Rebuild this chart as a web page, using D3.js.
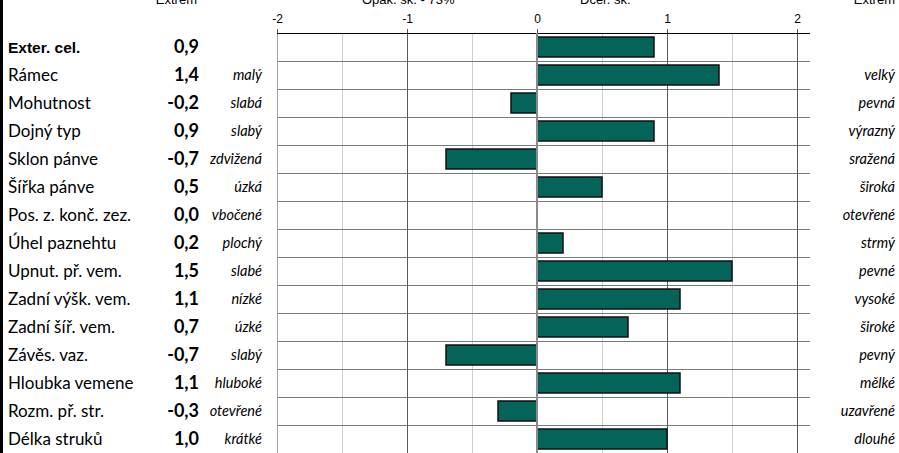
<!DOCTYPE html>
<html>
<head>
<meta charset="utf-8">
<script src="https://cdn.jsdelivr.net/npm/d3@7"></script>
<style>
body{margin:0;background:#fff;}
svg{display:block;}
.lab{font-family:Lato,'Open Sans',sans-serif;font-size:17px;fill:#000;}
.val{font-family:Lato,sans-serif;font-weight:bold;font-size:18px;fill:#000;}
.desc{font-family:Lato,sans-serif;font-style:italic;font-size:14.5px;fill:#000;}
.hdr{font-family:'Liberation Sans',Arial,sans-serif;font-size:13px;fill:#000;}
.axis text{font-family:'Liberation Sans',Arial,sans-serif;font-size:12px;fill:#000;}
</style>
</head>
<body>
<div id="canvas"></div>
<script>
var traits = ['Exter. cel.','Rámec','Mohutnost','Dojný typ','Sklon pánve','Šířka pánve','Pos. z. konč. zez.','Úhel paznehtu','Upnut. př. vem.','Zadní výšk. vem.','Zadní šíř. vem.','Závěs. vaz.','Hloubka vemene','Rozm. př. str.','Délka struků'];
var values = [0.9,1.4,-0.2,0.9,-0.7,0.5,0.0,0.2,1.5,1.1,0.7,-0.7,1.1,-0.3,1.0];
var lowLabels = ['','malý','slabá','slabý','zdvižená','úzká','vbočené','plochý','slabé','nízké','úzké','slabý','hluboké','otevřené','krátké'];
var highLabels = ['','velký','pevná','výrazný','sražená','široká','otevřené','strmý','pevné','vysoké','široké','pevný','mělké','uzavřené','dlouhé'];
var headers = ['Extrém','Opak. sk. - 73%','Dcer. sk.','Extrém'];
var ticks = [-2,-1,0,1,2];
var halfTicks = [-1.5,-0.5,0.5,1.5];

var W = 899, H = 453;
var top0 = 33, rowH = 28;

var svg = d3.select('#canvas').append('svg')
    .attr('width',W).attr('height',H);

//Scales
var scaleX = d3.scaleLinear().domain([-2,2]).range([277,797]);
var xEnd = scaleX(2.1);
var scaleY = d3.scaleBand()
    .domain(traits)
    .range([top0, top0 + rowH*traits.length])
    .paddingInner(0).paddingOuter(0);

var fmt = function(v){ return v.toFixed(1).replace('.',','); };

//left border
svg.append('rect').attr('x',0).attr('y',0).attr('width',3).attr('height',H).attr('fill','#000');

//headers (cut off at top, as in the source sheet)
var hdrX = [[197,'end'],[362,'start'],[580,'start'],[895,'end']];
svg.selectAll('.hdr').data(headers).enter().append('text')
    .attr('class','hdr')
    .attr('x',function(d,i){return hdrX[i][0];})
    .attr('y',4)
    .attr('text-anchor',function(d,i){return hdrX[i][1];})
    .text(function(d){return d;});

//light half gridlines
svg.selectAll('.half').data(halfTicks).enter().append('line')
    .attr('x1',function(d){return scaleX(d)+0.5;})
    .attr('x2',function(d){return scaleX(d)+0.5;})
    .attr('y1',top0).attr('y2',H)
    .attr('stroke','#cfcfcf').attr('stroke-width',1);

//row separators
svg.selectAll('.rowline').data(traits.slice(1)).enter().append('line')
    .attr('x1',scaleX(-2)).attr('x2',xEnd)
    .attr('y1',function(d){return scaleY(d)+0.5;})
    .attr('y2',function(d){return scaleY(d)+0.5;})
    .attr('stroke','#7a7a7a').attr('stroke-width',1);

//major gridlines
svg.selectAll('.major').data(ticks.filter(function(t){return t!==0;})).enter().append('line')
    .attr('x1',function(d){return scaleX(d)+0.5;})
    .attr('x2',function(d){return scaleX(d)+0.5;})
    .attr('y1',top0).attr('y2',H)
    .attr('stroke',function(d){return d===-2 ? '#a0a0a0' : '#5a5a5a';})
    .attr('stroke-width',1);

//axis
var axisX = d3.axisTop(scaleX)
    .tickValues(ticks)
    .tickSize(4)
    .tickPadding(6)
    .tickFormat(function(d){return String(d);});
var ax = svg.append('g').attr('class','axis')
    .attr('transform','translate(0,'+top0+')')
    .call(axisX);
ax.select('.domain').remove();
ax.selectAll('.tick line').attr('stroke','#555');
svg.append('line')
    .attr('x1',scaleX(-2)).attr('x2',xEnd)
    .attr('y1',top0+0.5).attr('y2',top0+0.5)
    .attr('stroke','#000').attr('stroke-width',1.2);

//bars
svg.selectAll('.bar').data(values).enter().append('rect')
    .attr('class','bar')
    .attr('x',function(d){return scaleX(Math.min(0,d));})
    .attr('width',function(d){return Math.abs(scaleX(d)-scaleX(0));})
    .attr('y',function(d,i){return scaleY(traits[i])+4;})
    .attr('height',20)
    .attr('fill','#05645a')
    .attr('stroke',function(d){return d===0 ? 'none' : '#111';})
    .attr('stroke-width',1.5);

//zero line
svg.append('line')
    .attr('x1',scaleX(0)).attr('x2',scaleX(0))
    .attr('y1',top0).attr('y2',H)
    .attr('stroke','#8a8a8a').attr('stroke-width',2);

//left labels
svg.selectAll('.lab').data(traits).enter().append('text')
    .attr('class','lab')
    .attr('x',8)
    .attr('y',function(d){return scaleY(d)+rowH/2+6;})
    .style('font-family',function(d,i){return i===0 ? "'Liberation Sans',Arial,sans-serif" : null;})
    .style('font-weight',function(d,i){return i===0 ? 'bold' : null;})
    .style('font-size',function(d,i){return i===0 ? '15.5px' : null;})
    .text(function(d){return d;});

svg.selectAll('.val').data(values).enter().append('text')
    .attr('class','val')
    .attr('x',199)
    .attr('text-anchor','end')
    .attr('y',function(d,i){return scaleY(traits[i])+rowH/2+6;})
    .text(fmt);

svg.selectAll('.low').data(lowLabels).enter().append('text')
    .attr('class','desc')
    .attr('x',262)
    .attr('text-anchor','end')
    .attr('y',function(d,i){return scaleY(traits[i])+rowH/2+5;})
    .text(function(d){return d;});

svg.selectAll('.high').data(highLabels).enter().append('text')
    .attr('class','desc')
    .attr('x',895)
    .attr('text-anchor','end')
    .attr('y',function(d,i){return scaleY(traits[i])+rowH/2+5;})
    .text(function(d){return d;});
</script>
</body>
</html>
